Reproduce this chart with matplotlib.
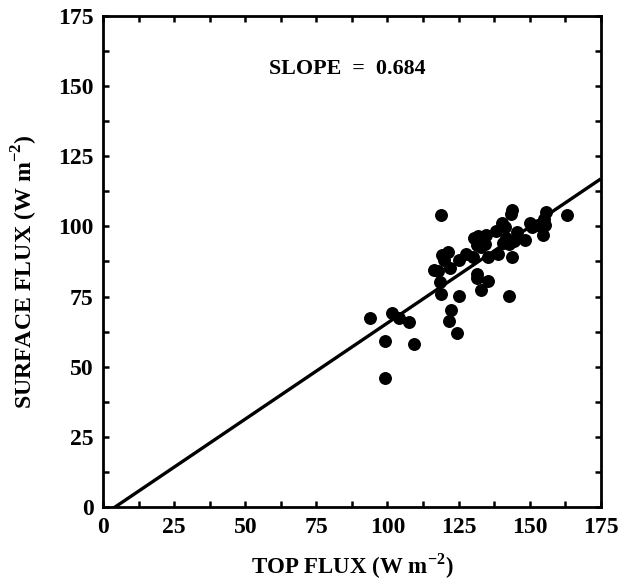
import matplotlib
matplotlib.use("Agg")
import matplotlib.pyplot as plt
import numpy as np
from matplotlib.ticker import MultipleLocator

top_flux = [94.0, 99.2, 99.0, 101.5, 104.0, 107.6, 109.3, 118.8, 116.3, 117.8,
            118.3, 118.8, 119.2, 119.8, 121.3, 122.0, 122.5, 121.7, 124.5, 125.2,
            125.0, 127.6, 130.2, 130.5, 131.5, 131.4, 131.6, 133.0, 134.5, 134.3,
            135.2, 135.5, 133.0, 138.0, 138.9, 140.2, 141.3, 141.8, 140.7, 142.6,
            143.7, 143.3, 143.8, 142.9, 144.5, 145.7, 148.5, 150.2, 150.8, 152.8,
            155.0, 155.6, 154.8, 155.4, 163.3, 132.0]
surface_flux = [67.2, 59.1, 46.0, 69.2, 67.4, 66.0, 58.0, 104.1, 84.3, 84.0,
                80.2, 76.0, 89.8, 88.0, 91.0, 85.1, 70.3, 66.3, 62.2, 75.2,
                88.0, 90.2, 89.2, 96.0, 93.5, 83.0, 81.7, 77.3, 96.8, 93.8,
                80.4, 89.2, 92.5, 98.4, 90.2, 101.2, 99.7, 95.8, 94.0, 75.2,
                105.8, 104.3, 89.2, 93.8, 94.8, 97.9, 95.2, 101.1, 99.7, 100.4,
                102.6, 105.1, 96.9, 100.6, 104.0, 96.5]
slope = 0.684
intercept = -2.8
xticks = [0, 25, 50, 75, 100, 125, 150, 175]
yticks = [0, 25, 50, 75, 100, 125, 150, 175]

plt.rcParams['font.family'] = ['Liberation Serif', 'DejaVu Serif']
plt.rcParams['font.weight'] = 'bold'
plt.rcParams['mathtext.fontset'] = 'custom'
plt.rcParams['mathtext.rm'] = 'Liberation Serif:bold'
plt.rcParams['mathtext.bf'] = 'Liberation Serif:bold'

fig = plt.figure(figsize=(6.33, 5.83), dpi=100)
ax = fig.add_axes([0.163, 0.130, 0.786, 0.843])

ax.plot(top_flux, surface_flux, 'o', color='black', markersize=8.3, zorder=3)
xl = np.array([0, 175])
yl = slope * xl + intercept
ax.plot(xl, yl, '-', color='black', linewidth=2.4, solid_capstyle='butt')

ax.set_xlim(0, 175)
ax.set_ylim(0, 175)
ax.set_xticks(xticks)
ax.set_yticks(yticks)
ax.xaxis.set_minor_locator(MultipleLocator(12.5))
ax.yaxis.set_minor_locator(MultipleLocator(12.5))
ax.tick_params(which='both', direction='in', top=True, right=True,
               length=4, width=1.8, labelsize=17, pad=7)
for s in ax.spines.values():
    s.set_linewidth(2)

ax.set_xlabel(r'TOP FLUX (W m$^{\mathbf{-2}}$)', fontsize=16.5,
              fontweight='bold', labelpad=10)
ax.set_ylabel(r'SURFACE FLUX (W m$^{\mathbf{-2}}$)', fontsize=17.2,
              fontweight='bold')
ax.yaxis.set_label_coords(-0.126, 0.48)
ax.text(86, 156, 'SLOPE  =  0.684', ha='center', va='center',
        fontsize=15.8, fontweight='bold')

fig.savefig('out.png', dpi=100)
